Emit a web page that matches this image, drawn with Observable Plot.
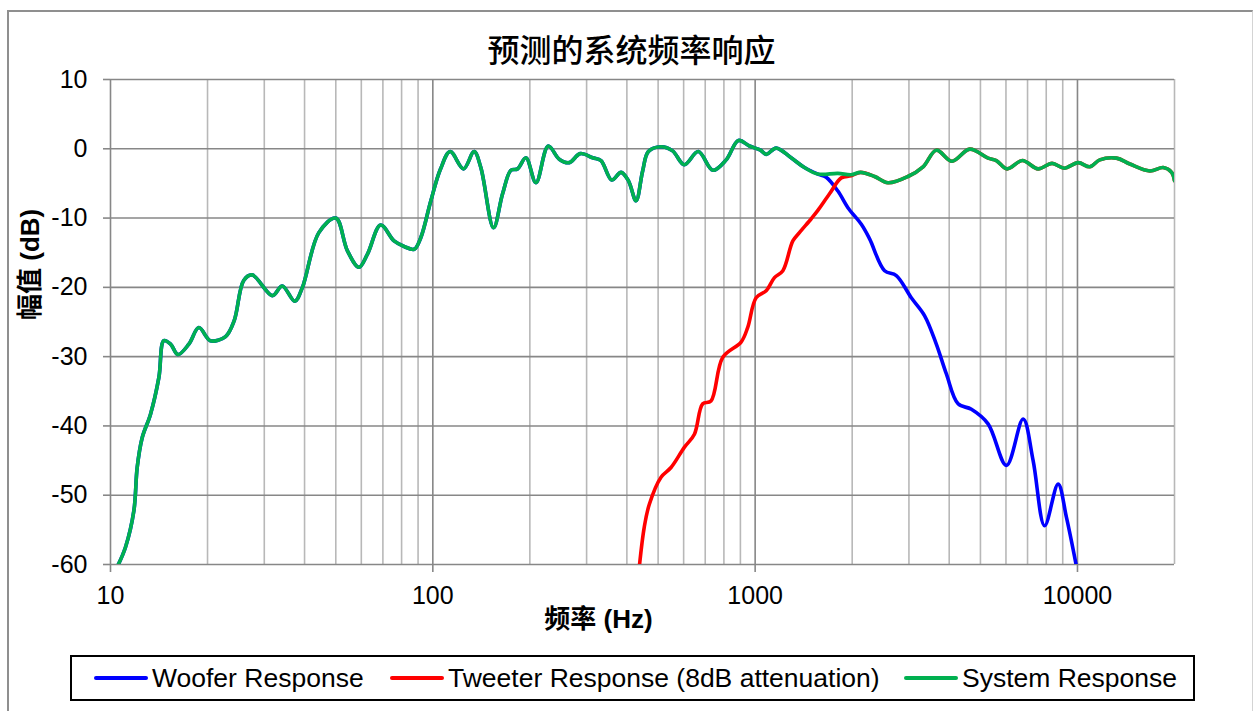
<!DOCTYPE html>
<html>
<head>
<meta charset="utf-8">
<script src="https://cdn.jsdelivr.net/npm/d3@7"></script>
<script src="https://cdn.jsdelivr.net/npm/@observablehq/plot@0.6"></script>
<style>
  html, body { margin: 0; padding: 0; background: #fff; }
  #page { position: relative; width: 1256px; height: 711px; overflow: hidden; background: #fff; }
  #frame {
    position: absolute; left: 7px; top: 10px; width: 1246px; height: 740px;
    border-left: 2px solid #8f8f8f; border-top: 2px solid #8f8f8f; border-right: 1px solid #d4d4d4;
    box-sizing: border-box;
  }
  #title {
    position: absolute; top: 28px; left: 0; width: 1263px; text-align: center;
    font-family: "Noto Sans CJK SC", sans-serif; font-size: 32px; font-weight: 500; line-height: 40px; color: #000;
  }
  #chart { position: absolute; left: 0; top: 55px; }
  #legend {
    position: absolute; left: 70px; top: 655px; width: 1125px; height: 46px;
    border: 2px solid #000; box-sizing: border-box;
    font-family: "Liberation Sans", Arial, sans-serif; font-size: 26.5px; color: #000;
  }
  .item { position: absolute; top: 0; height: 42px; display: flex; align-items: center; white-space: nowrap; }
  .swatch { width: 54px; height: 4px; border-radius: 2px; margin-right: 4px; }
</style>
</head>
<body>
<div id="page">
  <div id="frame"></div>
  <div id="title">预测的系统频率响应</div>
  <div id="chart"></div>
  <div id="legend"></div>
</div>
<script>
// System (summed) response: frequency in Hz, level in dB
const systemFreq = [10.5, 11.13, 11.82, 12.1, 12.54, 13.31, 14.13, 14.64, 15.36, 16.19, 17.5, 18.8, 20.4, 22.75, 24.2, 25.9, 27.5, 31.8, 34.1, 37.3, 39.4, 44.3, 50.0, 54.3, 59.0, 62.7, 68.9, 75.8, 81.5, 87.5, 91.8, 98.6, 105.5, 113.2, 124.5, 134.3, 140.9, 154.3, 164.6, 174.7, 183.2, 194.5, 208.9, 228.1, 246.7, 265.0, 286.7, 313.3, 332.4, 358.9, 383.7, 404.3, 427.1, 447.7, 466.4, 510.5, 554.6, 602.8, 666.3, 739, 812.8, 887.5, 960, 1039, 1082, 1162, 1293, 1422, 1565, 1806, 1986, 2123, 2347, 2582, 2979, 3318, 3648, 4083, 4630, 5280, 5601, 6047, 6745, 7549, 8340, 9093, 10050, 10915, 11725, 13210, 14540, 16770, 18450, 19590, 20000];
const systemDb = [-60.3, -57.5, -52.2, -46.0, -41.7, -38.3, -33.0, -27.7, -28.2, -29.7, -28.2, -25.8, -27.7, -27.1, -24.8, -19.0, -18.2, -21.2, -19.8, -22.0, -20.0, -12.1, -10.0, -14.7, -17.1, -15.2, -11.0, -13.3, -14.1, -14.5, -12.8, -7.5, -3.0, -0.4, -2.9, -0.4, -2.7, -11.4, -6.5, -3.1, -2.9, -1.3, -4.9, 0.4, -1.5, -2.0, -0.7, -1.3, -1.7, -4.5, -3.4, -4.6, -7.5, -3.2, -0.4, 0.3, -0.3, -2.3, -0.4, -3.1, -1.6, 1.2, 0.4, -0.2, -0.8, 0.1, -1.3, -2.7, -3.65, -3.55, -3.75, -3.4, -4.0, -4.9, -4.0, -2.6, -0.2, -1.8, -0.05, -1.35, -1.7, -2.9, -1.7, -2.9, -2.1, -2.8, -2.0, -2.6, -1.6, -1.35, -2.2, -3.2, -2.7, -3.4, -4.6];

// Woofer roll-off above the crossover (below it the woofer equals the system curve)
const wooferTailFreq = [1661, 1806, 1940, 2135, 2265, 2521, 2741, 3051, 3356, 3648, 3920, 4262, 4687, 5280, 6020, 6783, 7285, 7907, 8709, 9243, 9930];
const wooferTailDb = [-4.1, -6.1, -8.5, -10.9, -13.0, -17.6, -18.3, -21.5, -24.1, -28.2, -32.5, -36.8, -37.6, -39.7, -45.7, -39.0, -45.0, -54.4, -48.4, -53.2, -60.3];

// Tweeter rise below the crossover (above it the tweeter equals the system curve)
const tweeterHeadFreq = [437.2, 452.9, 469.6, 510.5, 548.3, 602.8, 648, 687.6, 729.4, 793.7, 904.4, 948, 1007, 1082, 1148, 1219, 1309, 1372, 1493, 1565, 1701, 1850, 1986];
const tweeterHeadDb = [-60.3, -54.6, -51.3, -47.4, -46.0, -43.1, -41.2, -36.8, -36.4, -30.1, -27.9, -25.8, -21.5, -20.5, -18.6, -17.6, -13.3, -12.1, -10.1, -8.9, -6.5, -4.2, -3.9];

const seriesNames = ["Woofer Response", "Tweeter Response (8dB attenuation)", "System Response"];
const seriesColors = ["#0000ff", "#ff0000", "#00b050"];

const xTickValues = [10, 100, 1000, 10000];
const yTickValues = [-60, -50, -40, -30, -20, -10, 0, 10];

const zip = (fs, ds) => fs.map((f, i) => ({f, db: ds[i]}));
const system = zip(systemFreq, systemDb);
const woofer = system.filter(d => d.f < 1600).concat(zip(wooferTailFreq, wooferTailDb));
const tweeter = zip(tweeterHeadFreq, tweeterHeadDb).concat(system.filter(d => d.f > 2100));

// Log-decade grid lines 1..9 × 10^k up to 20 kHz
const xGrid = [];
for (const d of xTickValues) for (let k = 2; k <= 9; k++) if (k * d <= 20000) xGrid.push(k * d);

const lineOpts = {x: "f", y: "db", strokeWidth: 3.6, curve: "catmull-rom", clip: true, strokeLinejoin: "round", strokeLinecap: "round"};

const chart = Plot.plot({
  width: 1256,
  height: 590,
  marginLeft: 110,
  marginRight: 82,
  marginTop: 24,
  marginBottom: 81,
  x: {type: "log", domain: [10, 20000]},
  y: {domain: [-60, 10]},
  style: {fontFamily: "'Liberation Sans', Arial, sans-serif", fontSize: "25px", color: "#000", background: "transparent"},
  marks: [
    Plot.ruleX(xGrid, {stroke: "#b8b8b8", strokeWidth: 1.6}),
    Plot.ruleX(xTickValues, {stroke: "#878787", strokeWidth: 1.6}),
    Plot.ruleY(yTickValues, {stroke: "#878787", strokeWidth: 1.6}),
    Plot.axisX({ticks: xTickValues, tickSize: 8, tickPadding: 14, tickFormat: d => String(d), stroke: "#878787", fill: "#000", strokeWidth: 1.6, label: null}),
    Plot.axisY({ticks: yTickValues, tickSize: 7, tickPadding: 16, tickFormat: d => String(d), stroke: "#878787", fill: "#000", strokeWidth: 1.6, label: null}),
    Plot.line(woofer, {...lineOpts, stroke: seriesColors[0]}),
    Plot.line(tweeter, {...lineOpts, stroke: seriesColors[1]}),
    Plot.line(system, {...lineOpts, stroke: seriesColors[2]}),
    Plot.text(["频率 (Hz)"], {frameAnchor: "bottom", dx: -44, dy: 63, fontWeight: "bold", fontSize: 26, fontFamily: "'Liberation Sans', 'Noto Sans CJK SC', sans-serif", fill: "#000"}),
    Plot.text(["幅值 (dB)"], {frameAnchor: "left", dx: -80, dy: -2, rotate: -90, fontWeight: "bold", fontSize: 26, fontFamily: "'Liberation Sans', 'Noto Sans CJK SC', sans-serif", fill: "#000"})
  ]
});
document.getElementById("chart").appendChild(chart);

// Legend below the chart
const legend = document.getElementById("legend");
const itemLeft = [22, 318, 832];
seriesNames.forEach((name, i) => {
  const item = document.createElement("div");
  item.className = "item";
  item.style.left = itemLeft[i] + "px";
  const sw = document.createElement("span");
  sw.className = "swatch";
  sw.style.background = seriesColors[i];
  const label = document.createElement("span");
  label.textContent = name;
  item.append(sw, label);
  legend.appendChild(item);
});
</script>
</body>
</html>
